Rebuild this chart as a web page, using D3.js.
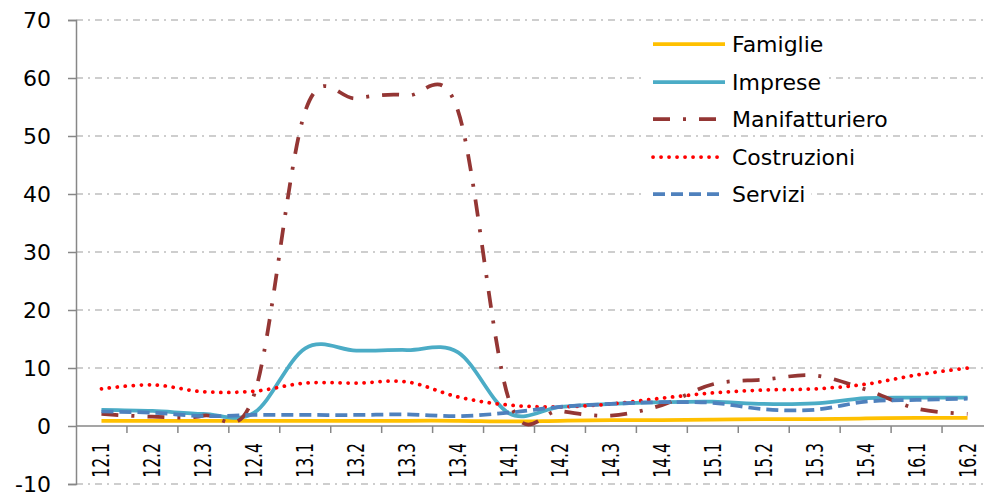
<!DOCTYPE html>
<html>
<head>
<meta charset="utf-8">
<script src="https://cdn.jsdelivr.net/npm/d3@7"></script>
<style>
body{margin:0;background:#fff;}
text{font-family:"DejaVu Sans",Verdana,sans-serif;fill:#000;}
</style>
</head>
<body>
<svg id="chart" width="984" height="493"></svg>
<script>
// trimestri
var categories = ["12.1","12.2","12.3","12.4","13.1","13.2","13.3","13.4","14.1","14.2","14.3","14.4","15.1","15.2","15.3","15.4","16.1","16.2"];
var yTicks = [-10,0,10,20,30,40,50,60,70];

var famiglie = [0.9,0.9,0.9,0.9,0.9,0.9,0.9,0.9,0.8,0.9,1.0,1.0,1.1,1.2,1.2,1.3,1.4,1.4];
var imprese = [2.8,2.6,2.1,2.3,13.4,13.0,13.1,12.7,2.2,3.3,3.8,4.1,4.2,3.8,3.9,4.8,4.9,4.9];
var manifatturiero = [2.1,1.6,1.8,5.5,54.3,56.5,57,54.3,4.5,2.6,1.8,3.6,7.2,8.0,8.7,6.3,3.0,2.1];
var costruzioni = [6.4,7.1,5.9,6.0,7.4,7.4,7.6,5.0,3.6,3.3,3.8,4.8,5.7,6.2,6.4,7.2,8.8,10.0];
var servizi = [2.5,2.3,1.7,1.9,1.9,1.9,2.0,1.7,2.3,3.3,3.8,4.1,4.0,2.9,2.8,4.2,4.5,4.7];

var series = [
    {name:"Famiglie", values:famiglie, color:"#FFC000", dash:null, cap:"butt"},
    {name:"Imprese", values:imprese, color:"#4BACC6", dash:null, cap:"butt"},
    {name:"Manifatturiero", values:manifatturiero, color:"#943634", dash:"17,13,3,13", cap:"butt"},
    {name:"Costruzioni", values:costruzioni, color:"#FF0000", dash:"0.1,7.9", cap:"round"},
    {name:"Servizi", values:servizi, color:"#4F81BD", dash:"12,6", cap:"butt"}
];

var svg = d3.select("#chart");
var plotLeft = 76, plotRight = 993, plotTop = 20, plotBottom = 484;

var x = d3.scaleBand().domain(categories).range([plotLeft,plotRight]);
var y = d3.scaleLinear().domain([-10,70]).range([plotBottom,plotTop]);

// griglia
svg.append("g").selectAll("line").data(yTicks.filter(function(d){return d!=0;})).enter().append("line")
    .attr("x1",plotLeft).attr("x2",plotRight).attr("y1",function(d){return y(d);}).attr("y2",function(d){return y(d);})
    .style("stroke","#BFBFBF").style("stroke-width",1.5).style("stroke-dasharray","7,5,2,5");

// asse y
var yAxis = svg.append("g").attr("transform","translate("+plotLeft+",0)")
    .call(d3.axisLeft(y).tickValues(yTicks).tickFormat(function(d){return String(d);}).tickSize(8).tickPadding(17));
yAxis.select(".domain").style("stroke","#878787").style("stroke-width",1.5);
yAxis.selectAll(".tick line").style("stroke","#878787").style("stroke-width",1.5);
yAxis.selectAll(".tick text").style("font-size","22px").style("font-family","DejaVu Sans").attr("fill","#000");

// asse x sullo zero
var boundaries = categories.slice(1).map(function(c){return x(c);});
svg.append("line").attr("x1",plotLeft).attr("x2",plotRight).attr("y1",y(0)).attr("y2",y(0))
    .style("stroke","#878787").style("stroke-width",1.5);
svg.append("g").selectAll("line").data(boundaries).enter().append("line")
    .attr("x1",function(d){return d;}).attr("x2",function(d){return d;})
    .attr("y1",y(0)).attr("y2",y(0)+7)
    .style("stroke","#878787").style("stroke-width",1.5);
svg.append("g").selectAll("text").data(categories).enter().append("text")
    .attr("transform",function(d){return "translate("+(x(d)+x.bandwidth()/2+8)+","+(y(0)+17)+") rotate(-90) scale(0.68,1)";})
    .attr("text-anchor","end")
    .style("font-size","23px")
    .text(function(d){return d;});

// linee
var line = d3.line()
    .x(function(d,i){return x(categories[i])+x.bandwidth()/2;})
    .y(function(d){return y(d);})
    .curve(d3.curveCardinal.tension(0));

series.forEach(function(s){
    svg.append("path").datum(s.values).attr("d",line)
        .style("fill","none").style("stroke",s.color).style("stroke-width",3.75)
        .style("stroke-dasharray",s.dash).style("stroke-linecap",s.cap);
});

// legenda
var rowY = [44,82,119,157,194];
series.forEach(function(s,i){
    var g = svg.append("g");
    var bg = g.append("rect").attr("x",645).attr("y",rowY[i]-16).attr("height",32).style("fill","#fff");
    g.append("line").attr("x1",653).attr("x2",725).attr("y1",rowY[i]).attr("y2",rowY[i])
        .style("stroke",s.color).style("stroke-width",3.75)
        .style("stroke-dasharray",s.dash).style("stroke-linecap",s.cap);
    var t = g.append("text").attr("x",732).attr("y",rowY[i]).attr("dy","0.35em")
        .style("font-size","22px").text(s.name);
    bg.attr("width",732-645+t.node().getComputedTextLength()+6);
});
</script>
</body>
</html>
